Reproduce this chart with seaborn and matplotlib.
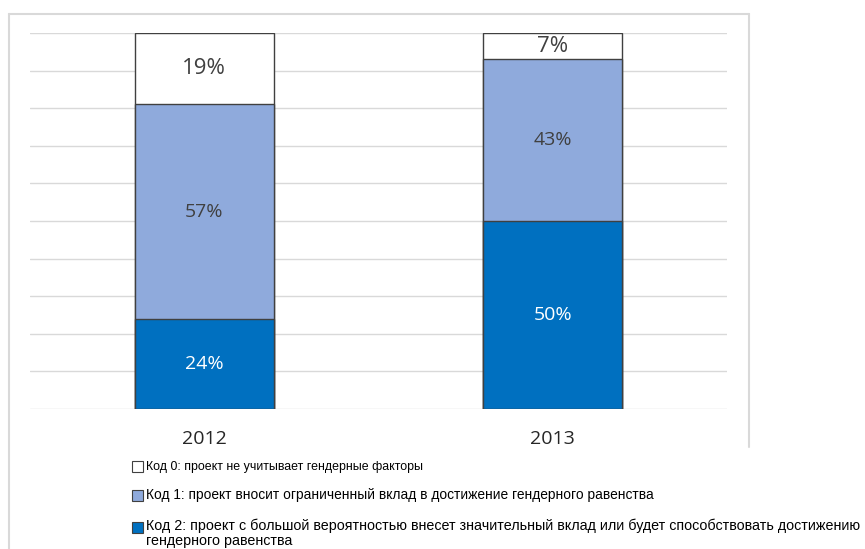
import matplotlib
matplotlib.use("Agg")
import matplotlib.pyplot as plt
from matplotlib.patches import Rectangle
from matplotlib.lines import Line2D
import seaborn as sns
import pandas as pd
import numpy as np

# ---- data ----
years = ["2012", "2013"]
code0 = [19, 7]
code1 = [57, 43]
code2 = [24, 50]
legend_labels = [
    "Код 0: проект не учитывает гендерные факторы",
    "Код 1: проект вносит ограниченный вклад в достижение гендерного равенства",
    "Код 2: проект с большой вероятностью внесет значительный вклад или будет способствовать достижению\nгендерного равенства",
]
colors = ["#FFFFFF", "#8FAADC", "#0070C0"]
label_colors = ["#404040", "#404040", "#FFFFFF"]

sns.set_theme(style="white")
plt.rcParams["font.family"] = ["Open Sans", "DejaVu Sans"]

W, H = 865, 549
fig = plt.figure(figsize=(W / 100, H / 100), dpi=100)
ax = fig.add_axes([30 / W, 1 - 409 / H, (727 - 30) / W, (409 - 33) / H])

df = pd.DataFrame({"year": years, "c0": code0, "c1": code1, "c2": code2})
df["top2"] = df["c2"]
df["top1"] = df["c2"] + df["c1"]
df["top0"] = df["c2"] + df["c1"] + df["c0"]

for col, c in zip(["top0", "top1", "top2"], colors):
    sns.barplot(data=df, x="year", y=col, color=c, width=0.4, saturation=1,
                edgecolor="#404040", linewidth=1.0, ax=ax, zorder=3)

# segment labels
for i in range(len(years)):
    segs = [(0, code2[i], 2), (code2[i], code1[i], 1), (code2[i] + code1[i], code0[i], 0)]
    for bottom, val, k in segs:
        size = 16 if k == 0 else 14
        ax.text(i, bottom + val / 2, f"{val}%", ha="center", va="center",
                fontsize=size, color=label_colors[k], zorder=5)

ax.set_xlim(-0.5, 1.5)
ax.set_ylim(0, 100)
ax.set_yticks(np.arange(0, 101, 10))
ax.set_yticklabels([])
ax.yaxis.grid(True, color="#D9D9D9", linewidth=1.0)
ax.set_axisbelow(True)
for s in ax.spines.values():
    s.set_visible(False)
ax.tick_params(axis="both", length=0)
ax.tick_params(axis="x", labelsize=14, labelcolor="#262626", pad=15)
ax.tick_params(axis="y", left=False)
ax.set_xlabel("")
ax.set_ylabel("")

# chart frame
fc = "#D9D9D9"
fig.add_artist(Line2D([9 / W, 749 / W], [1 - 14 / H, 1 - 14 / H], color=fc, lw=1.5))
fig.add_artist(Line2D([9 / W, 9 / W], [1 - 14 / H, 0], color=fc, lw=1.5))
fig.add_artist(Line2D([749 / W, 749 / W], [1 - 14 / H, 1 - 447 / H], color=fc, lw=1.5))

# legend (manual: square swatch + text)
marker_y = [466, 495, 527]
baselines = [[470], [499], [530, 545]]
sizes = [8.9, 9.9, 10.3]
for lab, c, my, bls, fs in zip(legend_labels, colors, marker_y, baselines, sizes):
    fig.add_artist(Rectangle((132 / W, 1 - (my + 5.5) / H), 11 / W, 11 / H,
                             facecolor=c, edgecolor="#404040", lw=0.8))
    for line, bl in zip(lab.split("\n"), bls):
        fig.text(146 / W, 1 - bl / H, line, ha="left", va="baseline",
                 fontsize=fs, family=["Liberation Sans", "DejaVu Sans"],
                 color="#000000")

fig.savefig("out.png", dpi=100)
